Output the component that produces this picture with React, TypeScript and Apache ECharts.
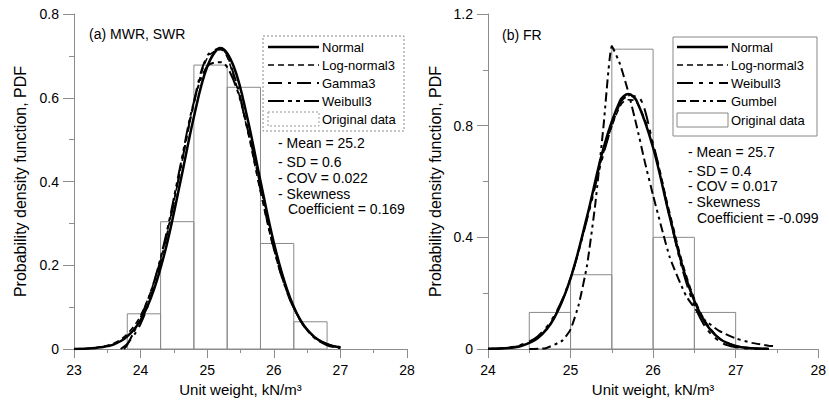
import React, { useEffect, useRef } from "react";
import * as echarts from "echarts";

// ---------- Panel (a) MWR, SWR ----------
const binLoA = [23.8, 24.3, 24.8, 25.3, 25.8, 26.3];
const binHiA = [24.3, 24.8, 25.3, 25.8, 26.3, 26.8];
const histA = [0.084, 0.304, 0.678, 0.625, 0.252, 0.065];

const xA = [23.0, 23.2, 23.4, 23.6, 23.8, 24.0, 24.2, 24.4, 24.6, 24.8, 25.0, 25.2, 25.4, 25.6, 25.8, 26.0, 26.2, 26.4, 26.6, 26.8, 27.0];
const normalA = [0.0, 0.001, 0.004, 0.011, 0.03, 0.069, 0.142, 0.254, 0.401, 0.554, 0.674, 0.719, 0.674, 0.554, 0.401, 0.254, 0.142, 0.069, 0.03, 0.011, 0.004];
const lognormalA = [0.0, 0.001, 0.005, 0.014, 0.036, 0.08, 0.16, 0.28, 0.43, 0.585, 0.695, 0.715, 0.65, 0.525, 0.375, 0.238, 0.135, 0.068, 0.031, 0.012, 0.004];
const xGammaA = [23.7, 23.8, 24.0, 24.2, 24.4, 24.6, 24.8, 25.0, 25.2, 25.4, 25.6, 25.8, 26.0, 26.2, 26.4, 26.6, 26.8, 27.0];
const gammaA = [0.0, 0.012, 0.06, 0.15, 0.275, 0.43, 0.59, 0.7, 0.718, 0.655, 0.53, 0.38, 0.24, 0.135, 0.068, 0.03, 0.012, 0.004];
const xWeibullA = [23.75, 23.8, 24.0, 24.2, 24.4, 24.6, 24.8, 25.0, 25.2, 25.4, 25.6, 25.8, 26.0, 26.2, 26.4, 26.6, 26.8, 27.0];
const weibullA = [0.0, 0.01, 0.075, 0.16, 0.285, 0.44, 0.59, 0.675, 0.685, 0.64, 0.53, 0.39, 0.25, 0.14, 0.068, 0.028, 0.009, 0.002];
const statsA = ["- Mean = 25.2", "- SD = 0.6", "- COV = 0.022", "- Skewness", "Coefficient = 0.169"];

// ---------- Panel (b) FR ----------
const binLoB = [24.5, 25.0, 25.5, 26.0, 26.5];
const binHiB = [25.0, 25.5, 26.0, 26.5, 27.0];
const histB = [0.131, 0.266, 1.074, 0.4, 0.131];

const xB = [24.0, 24.2, 24.4, 24.6, 24.8, 25.0, 25.2, 25.4, 25.6, 25.7, 25.8, 26.0, 26.2, 26.4, 26.6, 26.8, 27.0, 27.2, 27.4];
const normalB = [0.001, 0.003, 0.011, 0.038, 0.11, 0.253, 0.475, 0.721, 0.889, 0.913, 0.889, 0.721, 0.475, 0.253, 0.11, 0.038, 0.011, 0.003, 0.001];
const lognormalB = [0.001, 0.003, 0.012, 0.04, 0.112, 0.252, 0.468, 0.705, 0.87, 0.893, 0.885, 0.73, 0.49, 0.265, 0.116, 0.04, 0.011, 0.003, 0.001];
const weibullB = [0.0, 0.004, 0.015, 0.045, 0.118, 0.255, 0.465, 0.7, 0.88, 0.905, 0.905, 0.735, 0.475, 0.24, 0.095, 0.028, 0.006, 0.001, 0.0];
const xGumbelB = [24.5, 24.7, 24.9, 25.0, 25.1, 25.2, 25.3, 25.4, 25.5, 25.6, 25.7, 25.8, 25.9, 26.0, 26.2, 26.4, 26.6, 26.8, 27.0, 27.2, 27.4, 27.5];
const gumbelB = [0.0, 0.003, 0.03, 0.07, 0.16, 0.3, 0.52, 0.8, 1.085, 1.02, 0.92, 0.8, 0.67, 0.55, 0.33, 0.19, 0.11, 0.065, 0.038, 0.022, 0.012, 0.009];
const statsB = ["- Mean = 25.7", "- SD = 0.4", "- COV = 0.017", "- Skewness", "Coefficient = -0.099"];

const legendA = ["Normal", "Log-normal3", "Gamma3", "Weibull3", "Original data"];
const legendB = ["Normal", "Log-normal3", "Weibull3", "Gumbel", "Original data"];

const FONT = "'Liberation Sans', Arial, Helvetica, sans-serif";

const pairs = (xs: number[], ys: number[]) => xs.map((x, i) => [x, ys[i]]);

const DASH_SOLID: any = "solid";
const DASH_LOG = [6, 4];
const DASH_GAMMA = [14, 6, 3, 6];
const DASH_WEIB_A = [16, 4, 4, 4, 4, 4];
const DASH_WEIB_B = [16, 6, 4, 6, 4, 6];
const DASH_GUMBEL = [9, 4, 9, 4, 3, 4, 3, 4];

export default function App() {
  const ref = useRef<HTMLDivElement>(null);
  useEffect(() => {
    if (!ref.current) return;
    const chart = echarts.init(ref.current, null, { renderer: "svg" });

    const axisColor = "#8c8c8c";
    const mkX = (gi: number, min: number) => ({
      type: "value",
      gridIndex: gi,
      min,
      max: 28,
      interval: 1,
      name: "Unit weight, kN/m³",
      nameLocation: "middle",
      nameGap: 28,
      nameTextStyle: { fontSize: 15, color: "#000", fontFamily: FONT },
      axisLine: { onZero: false, lineStyle: { color: axisColor, width: 1 } },
      axisTick: { show: true, length: 9, lineStyle: { color: axisColor } },
      minorTick: { show: true, splitNumber: 2, length: 4, lineStyle: { color: axisColor } },
      axisLabel: { margin: 14, fontSize: 14, color: "#000", fontFamily: FONT },
      splitLine: { show: false },
    });
    const mkY = (gi: number, max: number, interval: number, gap: number) => ({
      type: "value",
      gridIndex: gi,
      min: 0,
      max,
      interval,
      name: "Probability density function, PDF",
      nameLocation: "middle",
      nameGap: gap,
      nameTextStyle: { fontSize: 16, color: "#000", fontFamily: FONT },
      axisLine: { show: true, lineStyle: { color: axisColor, width: 1 } },
      axisTick: { show: true, length: 11, lineStyle: { color: axisColor } },
      minorTick: { show: true, splitNumber: 2, length: 5, lineStyle: { color: axisColor } },
      axisLabel: { margin: 15, fontSize: 14, color: "#000", fontFamily: FONT },
      splitLine: { show: false },
    });

    const hist = (gi: number, lo: number[], hi: number[], h: number[]) => ({
      type: "custom",
      name: "Original data",
      xAxisIndex: gi,
      yAxisIndex: gi,
      data: lo.map((l, i) => [l, hi[i], h[i]]),
      encode: { x: [0, 1], y: 2 },
      z: 1,
      renderItem: (_p: any, api: any) => {
        const p0 = api.coord([api.value(0), api.value(2)]);
        const p1 = api.coord([api.value(1), 0]);
        return {
          type: "rect",
          shape: { x: p0[0], y: p0[1], width: p1[0] - p0[0], height: p1[1] - p0[1] },
          style: { fill: "none", stroke: "#8a8a8a", lineWidth: 1 },
        };
      },
    });

    const curve = (gi: number, name: string, data: number[][], dash: any, width: number, smooth = 0.35) => ({
      type: "line",
      name,
      xAxisIndex: gi,
      yAxisIndex: gi,
      data,
      smooth,
      symbol: "none",
      z: 3,
      lineStyle: { color: "#000", width, type: dash },
    });

    // legend & annotation graphics
    const g: any[] = [];
    const legendBox = (x: number, y: number, w: number, h: number, dashed: boolean) =>
      g.push({ type: "rect", shape: { x, y, width: w, height: h }, style: { fill: "#fff", stroke: "#888", lineWidth: 1, lineDash: dashed ? [2, 2] : null }, z: 10 });
    const legendLine = (x1: number, x2: number, y: number, dash: any, w: number) =>
      g.push({ type: "line", shape: { x1, y1: y, x2, y2: y }, style: { stroke: "#000", lineWidth: w, lineDash: dash === "solid" ? null : dash }, z: 11 });
    const txt = (x: number, y: number, text: string, size: number) =>
      g.push({ type: "text", x, y, style: { text, fontSize: size, fontFamily: FONT, fill: "#000", verticalAlign: "middle", align: "left" }, z: 11 });

    // Panel (a) legend
    legendBox(263, 36, 141, 95, true);
    const ysA = [47, 65, 83, 101, 119];
    const dashesA = [DASH_SOLID, DASH_LOG, DASH_GAMMA, DASH_WEIB_A];
    const widthsA = [2.5, 1.6, 2, 2];
    dashesA.forEach((d, i) => legendLine(268, 319, ysA[i], d, widthsA[i]));
    g.push({ type: "rect", shape: { x: 268, y: 112, width: 51, height: 14 }, style: { fill: "none", stroke: "#999", lineWidth: 1, lineDash: [2, 2] }, z: 11 });
    legendA.forEach((t, i) => txt(322, ysA[i], t, 13));

    // Panel (b) legend
    legendBox(673, 37, 144, 99, false);
    const ysB = [47, 65, 83, 101, 120];
    const dashesB = [DASH_SOLID, DASH_LOG, DASH_WEIB_B, DASH_GUMBEL];
    const widthsB = [2.5, 1.6, 2, 2];
    dashesB.forEach((d, i) => legendLine(677, 728, ysB[i], d, widthsB[i]));
    g.push({ type: "rect", shape: { x: 677, y: 113, width: 51, height: 14 }, style: { fill: "none", stroke: "#888", lineWidth: 1 }, z: 11 });
    legendB.forEach((t, i) => txt(731, ysB[i], t, 13));

    // Stats
    const statYA = [143, 162, 178, 194, 209];
    statsA.forEach((t, i) => txt(i === 4 ? 288 : 278, statYA[i], t, 14));
    const statYB = [152, 171, 186, 202, 218];
    statsB.forEach((t, i) => txt(i === 4 ? 697 : 688, statYB[i], t, 14));

    // Panel labels
    txt(89, 34, "(a) MWR, SWR", 14);
    txt(502, 35, "(b) FR", 14);

    chart.setOption({
      animation: false,
      backgroundColor: "#fff",
      grid: [
        { left: 74, right: 422, top: 14, bottom: 56, containLabel: false },
        { left: 488, right: 7, top: 14, bottom: 56, containLabel: false },
      ],
      xAxis: [mkX(0, 23), mkX(1, 24)],
      yAxis: [mkY(0, 0.8, 0.2, 46), mkY(1, 1.2, 0.4, 45)],
      series: [
        hist(0, binLoA, binHiA, histA),
        curve(0, "Normal", pairs(xA, normalA), "solid", 2.5),
        curve(0, "Log-normal3", pairs(xA, lognormalA), DASH_LOG, 1.6),
        curve(0, "Gamma3", pairs(xGammaA, gammaA), DASH_GAMMA, 2),
        curve(0, "Weibull3", pairs(xWeibullA, weibullA), DASH_WEIB_A, 2),
        hist(1, binLoB, binHiB, histB),
        curve(1, "Normal", pairs(xB, normalB), "solid", 2.5),
        curve(1, "Log-normal3", pairs(xB, lognormalB), DASH_LOG, 1.6),
        curve(1, "Weibull3", pairs(xB, weibullB), DASH_WEIB_B, 2),
        curve(1, "Gumbel", pairs(xGumbelB, gumbelB), DASH_GUMBEL, 2, 0.15),
      ],
      graphic: g,
    });
    return () => chart.dispose();
  }, []);

  return (
    <div
      ref={ref}
      style={{ position: "absolute", left: 0, top: 0, width: 829, height: 405, background: "#fff" }}
    />
  );
}
